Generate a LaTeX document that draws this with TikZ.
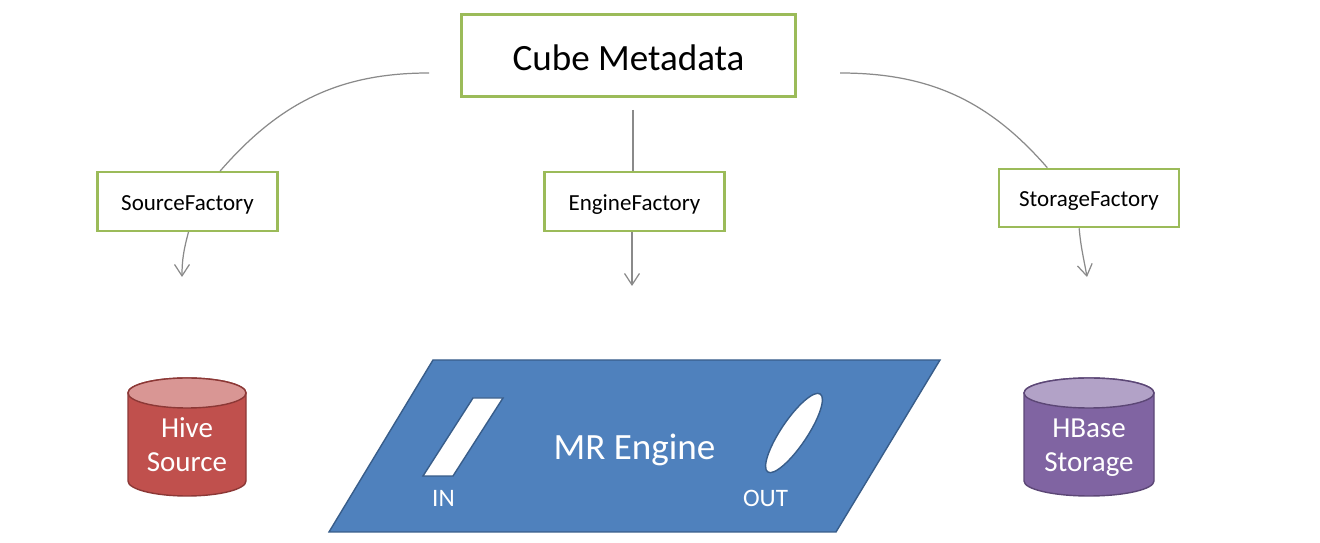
\documentclass[tikz,border=0pt]{standalone}
\usepackage{fontspec}
\setmainfont{Carlito}
\usetikzlibrary{arrows.meta,shapes.geometric}
\definecolor{boxgreen}{HTML}{9BBB59}
\definecolor{linegray}{HTML}{8A8A8A}
\definecolor{enginefill}{HTML}{4F81BD}
\definecolor{engineline}{HTML}{385D8A}
\definecolor{hivefill}{HTML}{C0504D}
\definecolor{hivetop}{HTML}{D99694}
\definecolor{hiveline}{HTML}{8C3836}
\definecolor{hbasefill}{HTML}{8064A2}
\definecolor{hbasetop}{HTML}{B2A2C7}
\definecolor{hbaseline}{HTML}{5C4776}
\tikzset{
    factorybox/.style={draw=boxgreen,line width=1.2pt,fill=white,minimum width=3.6cm,minimum height=1.17cm,inner sep=0pt,text height=10pt,text depth=0pt,font=\fontsize{13.1}{15}\selectfont},
    link/.style={draw=linegray,line width=0.7pt},
    linkarrow/.style={link,-{Straight Barb[length=6.5pt,width=8.5pt]}},
    store/.style={line width=0.8pt},
    storelabel/.style={text=white,inner sep=0pt,align=center,font=\fontsize{16.5}{19.3}\selectfont},
    port/.style={fill=white,draw=engineline,line width=0.8pt},
    portlabel/.style={text=white,inner sep=0pt,font=\fontsize{14.3}{17}\selectfont}
}
\begin{document}
\begin{tikzpicture}[x=0.02cm,y=-0.02cm]
        \useasboundingbox(0,0)rectangle(1320,543);
        \node[draw=boxgreen,line width=1.2pt,minimum width=6.68cm,minimum height=1.64cm,inner sep=0pt,text height=17.6pt,text depth=0pt,font=\fontsize{21.1}{24}\selectfont](cube)at(628.5,55.5){Cube Metadata};
        \node[factorybox](source)at(187.5,201.5){SourceFactory};
        \node[factorybox](engine)at(634.5,201.5){EngineFactory};
        \node[factorybox](storage)at(1089,198){StorageFactory};
        \coordinate(cubeleft)at(429,73);
        \coordinate(cubemid)at(633,110);
        \coordinate(cuberight)at(840,73);
        \coordinate(sourceout)at(182,277);
        \coordinate(engineout)at(632,286);
        \coordinate(storageout)at(1087,277);
        \draw[link](cubeleft)to[out=180,in=49](source.43);
        \draw[link](cubemid)--(cubemid|-engine.north);
        \draw[link](cuberight)to[out=0,in=131](storage.144);
        \draw[linkarrow](source.-88)to[out=-105,in=90](sourceout);
        \draw[linkarrow](engineout|-engine.south)--(engineout);
        \draw[linkarrow](storage.-108)to[out=-85,in=100](storageout);
        \draw[store,fill=hivefill,draw=hiveline](128,393)--(128,481)arc[start angle=180,end angle=0,x radius=59,y radius=15]--(246,393)arc[start angle=0,end angle=-180,x radius=59,y radius=15]--cycle;
        \draw[store,fill=hivetop,draw=hiveline](187,393)ellipse[x radius=59,y radius=15];
        \draw[store,fill=hbasefill,draw=hbaseline](1024,393)--(1024,481)arc[start angle=180,end angle=0,x radius=65,y radius=15]--(1154,393)arc[start angle=0,end angle=-180,x radius=65,y radius=15]--cycle;
        \draw[store,fill=hbasetop,draw=hbaseline](1089,393)ellipse[x radius=65,y radius=15];
        \node[storelabel](hivelabel)at(187,445){Hive\\Source};
        \node[storelabel](hbaselabel)at(1089,448){HBase\\Storage};
        \draw[fill=enginefill,draw=engineline,line width=0.8pt](433,360)--(940,360)--(836,532)--(329,532)--cycle;
        \node[text=white,inner sep=0pt,font=\fontsize{21.1}{24}\selectfont](mrengine)at(634.5,450){MR Engine};
        \draw[port](473,398)--(503,398)--(453,476)--(423,476)--cycle;
        \node[port,ellipse,rotate=56,minimum width=1.88cm,minimum height=0.52cm,inner sep=0pt](outport)at(794,433){};
        \node[portlabel](inlabel)at(443.5,498.5){IN};
        \node[portlabel](outlabel)at(765.5,498.5){OUT};
\end{tikzpicture}
\end{document}
